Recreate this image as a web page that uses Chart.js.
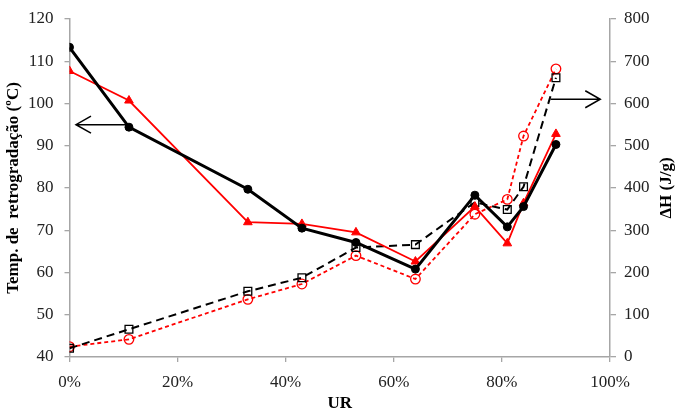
<!DOCTYPE html>
<html>
<head>
<meta charset="utf-8">
<script src="https://cdn.jsdelivr.net/npm/chart.js@4"></script>
<style>
  body { margin: 0; background: #fff; }
  #wrap { width: 675px; height: 412px; }
</style>
</head>
<body>
<div id="wrap"><canvas id="myChart" width="675" height="412"></canvas></div>
<script>
// data
const ur = [0, 11, 33, 43, 53, 64, 75, 81, 84, 90];
const tempBlack = [113.3, 94.4, 79.7, 70.5, 67.1, 60.8, 78.3, 70.8, 75.6, 90.3];
const tempRed = [107.7, 100.7, 71.9, 71.5, 69.5, 62.6, 75.6, 66.9, 76.4, 92.8];
const dhBlack = [20.6, 65.6, 155.5, 187.7, 259, 266, 366, 349, 403, 661];
const dhRed = [24.4, 41.8, 136.5, 172.8, 240, 184.5, 338, 373, 523, 682];

// arrows (value coords): [from x, to x, y, axis]
const arrowLeft = { x0: 11, x1: 1.2, y: 95, axis: 'yL' };
const arrowRight = { x0: 89, x1: 98.2, y: 610, axis: 'yR' };

const rightTitle = 'ΔH (J/g)';

const pts = (ys) => ur.map((x, i) => ({ x: x, y: ys[i] }));

const serif = "'Liberation Serif', 'Times New Roman', serif";
const axisGrey = '#a6a6a6';

// arrows + right axis title (Chart.js turns right titles the other way)
const extrasPlugin = {
    id: 'extras',
    afterDatasetsDraw(chart) {
        const ctx = chart.ctx;
        const sx = chart.scales.x;
        [arrowLeft, arrowRight].forEach(a => {
            const sy = chart.scales[a.axis];
            const x0 = sx.getPixelForValue(a.x0);
            const x1 = sx.getPixelForValue(a.x1);
            const y = sy.getPixelForValue(a.y);
            const dir = x1 > x0 ? 1 : -1;
            ctx.save();
            ctx.strokeStyle = '#000';
            ctx.lineWidth = 1.5;
            ctx.beginPath();
            ctx.moveTo(x0, y);
            ctx.lineTo(x1, y);
            ctx.moveTo(x1 - dir * 15, y - 8.5);
            ctx.lineTo(x1, y);
            ctx.lineTo(x1 - dir * 15, y + 8.5);
            ctx.stroke();
            ctx.restore();
        });

        const yR = chart.scales.yR;
        ctx.save();
        ctx.translate(yR.right - 8.5, (yR.top + yR.bottom) / 2);
        ctx.rotate(-Math.PI / 2);
        ctx.font = 'bold 17px ' + serif;
        ctx.fillStyle = '#000';
        ctx.textAlign = 'center';
        ctx.textBaseline = 'middle';
        ctx.fillText(rightTitle, 0, 0);
        ctx.restore();
    }
};

const data = {
    datasets: [
        {
            label: 'Temp black',
            data: pts(tempBlack),
            yAxisID: 'yL',
            borderColor: '#000',
            backgroundColor: '#000',
            borderWidth: 3,
            pointStyle: 'circle',
            pointRadius: 4,
            pointBorderWidth: 1,
        },
        {
            label: 'Temp red',
            data: pts(tempRed),
            yAxisID: 'yL',
            borderColor: '#ff0000',
            backgroundColor: '#ff0000',
            borderWidth: 1.8,
            pointStyle: 'triangle',
            pointRadius: 5,
            pointBorderWidth: 1,
        },
        {
            label: 'dH black',
            data: pts(dhBlack),
            yAxisID: 'yR',
            borderColor: '#000',
            backgroundColor: 'rgba(0,0,0,0)',
            borderWidth: 2,
            borderDash: [8, 5],
            pointStyle: 'rect',
            pointRadius: 5.5,
            pointBorderWidth: 1.3,
            pointBorderColor: '#000',
        },
        {
            label: 'dH red',
            data: pts(dhRed),
            yAxisID: 'yR',
            borderColor: '#ff0000',
            backgroundColor: 'rgba(0,0,0,0)',
            borderWidth: 1.8,
            borderDash: [4, 3],
            pointStyle: 'circle',
            pointRadius: 4.8,
            pointBorderWidth: 1.3,
            pointBorderColor: '#ff0000',
        }
    ]
};

const config = {
    type: 'line',
    data,
    plugins: [extrasPlugin],
    options: {
        responsive: false,
        animation: false,
        layout: { padding: { top: 19, right: 0, left: 0, bottom: 0 } },
        plugins: {
            legend: { display: false },
            tooltip: { enabled: false }
        },
        scales: {
            x: {
                type: 'linear',
                min: 0,
                max: 100,
                afterFit: (s) => { s.height = 55; },
                ticks: {
                    stepSize: 20,
                    callback: (v) => v + '%',
                    color: '#222',
                    padding: 10,
                    font: { family: serif, size: 17 }
                },
                grid: { drawOnChartArea: false, color: axisGrey, tickLength: 5, lineWidth: 1.3 },
                border: { color: axisGrey, width: 1.5 },
                title: {
                    display: true,
                    text: 'UR',
                    color: '#000',
                    padding: 0,
                    font: { family: serif, size: 17, weight: 'bold', lineHeight: 1 }
                }
            },
            yL: {
                position: 'left',
                min: 40,
                max: 120,
                // tick padding would otherwise push the plot top down
                afterFit: (s) => { s.width = 69.5; s.paddingTop = 10; s.paddingBottom = 10; },
                ticks: {
                    stepSize: 10,
                    color: '#222',
                    padding: 11,
                    font: { family: serif, size: 17 }
                },
                grid: { drawOnChartArea: false, color: axisGrey, tickLength: 5, lineWidth: 1.3 },
                border: { color: axisGrey, width: 1.5 },
                title: {
                    display: true,
                    text: 'Temp. de  retrogradação (ºC)',
                    color: '#000',
                    padding: { top: 5, bottom: 0 },
                    font: { family: serif, size: 17, weight: 'bold', lineHeight: 1 }
                }
            },
            yR: {
                position: 'right',
                min: 0,
                max: 800,
                afterFit: (s) => { s.width = 65; s.paddingTop = 10; s.paddingBottom = 10; },
                ticks: {
                    stepSize: 100,
                    color: '#222',
                    padding: 8,
                    font: { family: serif, size: 17 }
                },
                grid: { drawOnChartArea: false, color: axisGrey, tickLength: 6, lineWidth: 1.3 },
                border: { color: axisGrey, width: 1.5 },
                title: { display: false }
            }
        }
    }
};

// render init block
const myChart = new Chart(document.getElementById('myChart'), config);
</script>
</body>
</html>
